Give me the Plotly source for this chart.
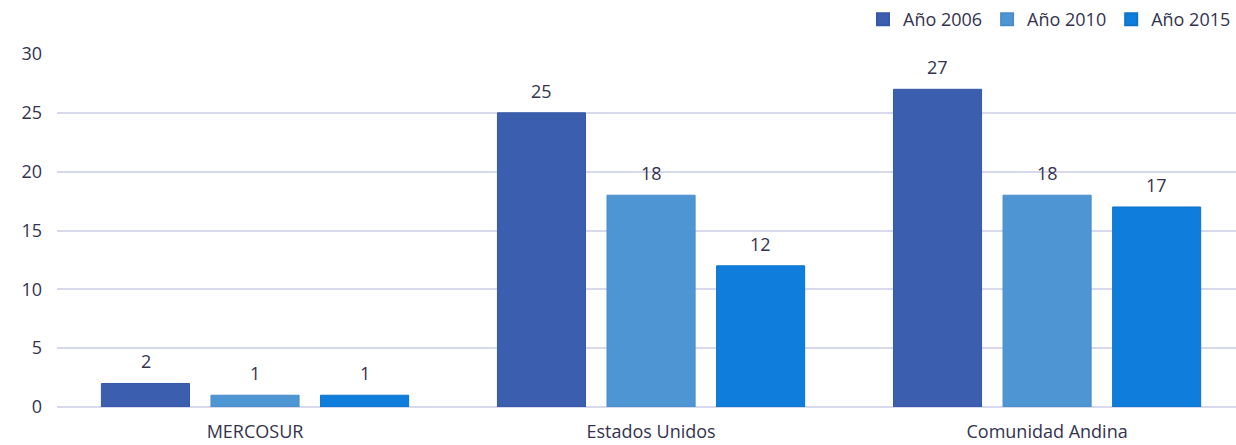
import plotly.graph_objects as go

categories = ["MERCOSUR", "Estados Unidos", "Comunidad Andina"]
series_names = ["Año 2006", "Año 2010", "Año 2015"]
v2006 = [2, 25, 27]
v2010 = [1, 18, 18]
v2015 = [1, 12, 17]
y_ticks = [0, 5, 10, 15, 20, 25, 30]

values = [v2006, v2010, v2015]
colors = ["#3B5EAF", "#4E95D3", "#0F7DDB"]
line_colors = ["#3559A8", "#4A8DC9", "#0D74CC"]
text_color = "#33334F"
font_family = "Open Sans, Liberation Sans, sans-serif"
fs = 18

fig = go.Figure()
for name, vals, c, lc in zip(series_names, values, colors, line_colors):
    fig.add_trace(go.Bar(
        x=categories, y=vals, name=name,
        marker=dict(color=c, line=dict(color=lc, width=1)),
    ))

# data labels via annotations, offset per series within group
offsets = [-109.5, 0, 109.5]
for vals, dx in zip(values, offsets):
    for cat, v in zip(categories, vals):
        fig.add_annotation(
            x=cat, y=v, text=str(v), showarrow=False,
            xshift=dx, yshift=22, yanchor="middle",
            font=dict(size=fs, color=text_color, family=font_family),
        )

fig.update_layout(
    width=1236, height=445,
    margin=dict(l=57, r=0, t=54, b=38, autoexpand=False),
    paper_bgcolor="white", plot_bgcolor="white",
    barmode="group", bargap=0.17, bargroupgap=0.196,
    font=dict(family=font_family, color=text_color, size=fs),
    showlegend=True,
    legend=dict(
        orientation="h", x=1.0, xanchor="right", y=1.045, yanchor="bottom",
        yref="paper", font=dict(size=fs, color=text_color),
        traceorder="normal", bgcolor="rgba(0,0,0,0)",
        itemsizing="constant",
    ),
    xaxis=dict(
        range=[-0.5, 2.477], automargin=False,
        showgrid=False, showline=False, ticks="",
        tickfont=dict(size=fs, color=text_color),
        ticklabelstandoff=12,
    ),
    yaxis=dict(
        range=[0, 30], tickvals=y_ticks, showgrid=True, automargin=False,
        gridcolor="#D9D9EE", gridwidth=2,
        zeroline=True, zerolinecolor="#D9D9EE", zerolinewidth=2,
        showline=False, ticks="",
        tickfont=dict(size=fs, color=text_color),
        ticklabelstandoff=14,
    ),
)

fig.write_html(
    "out.html",
    config={"displayModeBar": False},
    post_script="document.body.style.margin='0';document.body.style.overflow='hidden';",
)
